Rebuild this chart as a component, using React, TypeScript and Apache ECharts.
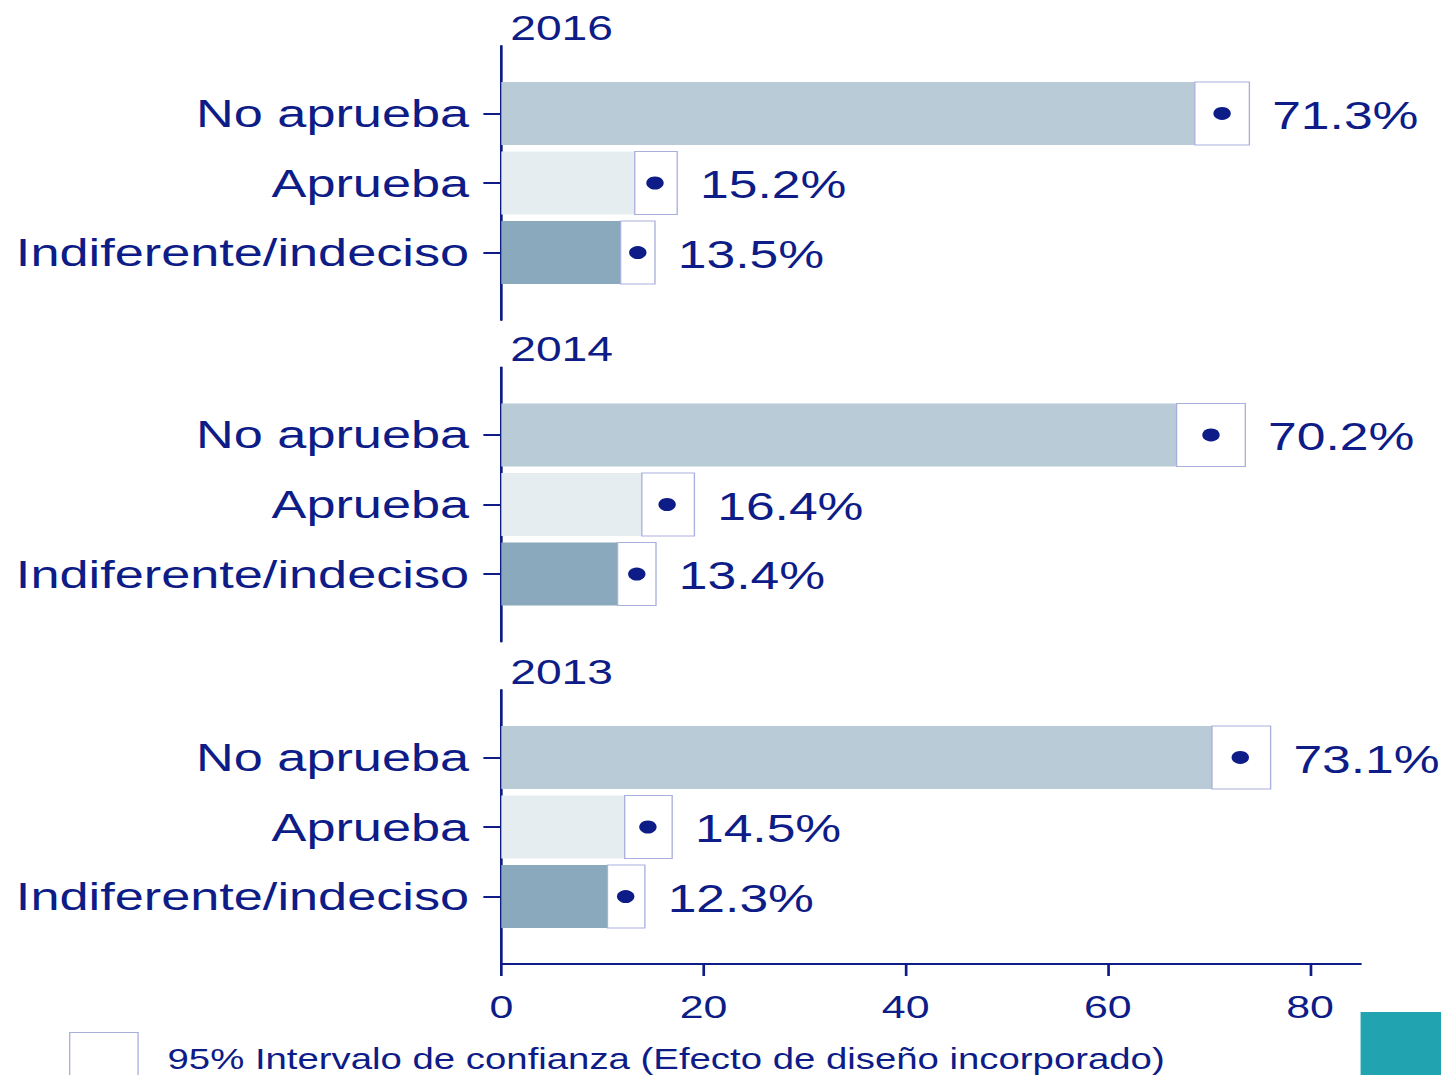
import React, { useEffect, useRef } from "react";
import * as echarts from "echarts";

const years = ["2016", "2014", "2013"];
const categories = ["No aprueba", "Aprueba", "Indiferente/indeciso"];
const est2016 = [71.3, 15.2, 13.5];
const lo2016 = [68.6, 13.2, 11.8];
const hi2016 = [74.0, 17.4, 15.2];
const est2014 = [70.2, 16.4, 13.4];
const lo2014 = [66.8, 13.9, 11.5];
const hi2014 = [73.6, 19.1, 15.3];
const est2013 = [73.1, 14.5, 12.3];
const lo2013 = [70.3, 12.2, 10.5];
const hi2013 = [76.1, 16.9, 14.2];
const xTicks = [0, 20, 40, 60, 80];
const legendName = "95% Intervalo de confianza (Efecto de diseño incorporado)";

const NAVY = "#0d1c86";
const BOX = "#aab0dd";
const barColors = ["#b9cbd7", "#e6edf1", "#8aa9bd"];
const FONT = '"Liberation Sans", Arial, sans-serif';

const W = 1075;
const H = 1075;
const SX = 1441 / W;

const panels = [
  { est: est2016, lo: lo2016, hi: hi2016 },
  { est: est2014, lo: lo2014, hi: hi2014 },
  { est: est2013, lo: lo2013, hi: hi2013 },
];
const tops = [46, 367.5, 690];
const gridH = 274;

export default function App() {
  const ref = useRef<HTMLDivElement>(null);
  useEffect(() => {
    document.body.style.margin = "0";
    document.body.style.overflow = "hidden";
    const chart = echarts.init(ref.current!, null, { renderer: "svg" });
    const grids: any[] = [];
    const xAxes: any[] = [];
    const yAxes: any[] = [];
    const series: any[] = [];
    panels.forEach((p, k) => {
      grids.push({ left: 374, right: 60, top: tops[k], height: gridH });
      const last = k === panels.length - 1;
      xAxes.push({
        type: "value",
        gridIndex: k,
        min: 0,
        max: 85,
        show: last,
        position: "bottom",
        splitLine: { show: false },
        axisLine: { show: true, onZero: false, lineStyle: { color: NAVY, width: 2 } },
        axisTick: { show: true, length: 12, customValues: xTicks, lineStyle: { color: NAVY, width: 2 } },
        axisLabel: { customValues: xTicks, fontSize: 32, fontFamily: FONT, color: NAVY, margin: 27 },
      });
      yAxes.push({
        type: "value",
        gridIndex: k,
        inverse: true,
        min: -0.97,
        max: 2.97,
        splitLine: { show: false },
        axisLine: { show: true, onZero: false, lineStyle: { color: NAVY, width: 2 } },
        axisTick: { show: true, length: 13.4, customValues: [0, 1, 2], lineStyle: { color: NAVY, width: 2 } },
        axisLabel: {
          customValues: [0, 1, 2],
          formatter: (v: number) => categories[Math.round(v)] ?? "",
          fontSize: 39,
          fontFamily: FONT,
          color: NAVY,
          margin: 24,
        },
      });
      const data = categories.map((_, i) => [i, p.lo[i], p.hi[i], p.est[i]]);
      series.push({
        type: "custom",
        name: legendName,
        xAxisIndex: k,
        yAxisIndex: k,
        encode: { x: [1, 2, 3], y: 0 },
        data,
        renderItem: (params: any, api: any) => {
          const i = api.value(0);
          const lo = api.value(1);
          const hi = api.value(2);
          const est = api.value(3);
          const p0 = api.coord([0, i]);
          const pLo = api.coord([lo, i]);
          const pHi = api.coord([hi, i]);
          const pE = api.coord([est, i]);
          const h = api.size([0, 0.905])[1];
          const y0 = p0[1] - h / 2;
          return {
            type: "group",
            children: [
              {
                type: "rect",
                shape: { x: p0[0], y: y0, width: pLo[0] - p0[0], height: h },
                style: { fill: barColors[i] },
              },
              {
                type: "rect",
                shape: { x: pLo[0], y: y0, width: pHi[0] - pLo[0], height: h },
                style: { fill: "#ffffff", stroke: BOX, lineWidth: 1 },
              },
              {
                type: "circle",
                shape: { cx: pE[0], cy: pE[1], r: 6.5 },
                style: { fill: NAVY },
              },
              {
                type: "text",
                x: pHi[0] + 17,
                y: pE[1] + 2,
                style: {
                  text: est.toFixed(1) + "%",
                  fill: NAVY,
                  fontSize: 38.5,
                  fontFamily: FONT,
                  align: "left",
                  verticalAlign: "middle",
                },
              },
            ],
          };
        },
      });
    });

    chart.setOption({
      animation: false,
      backgroundColor: "#ffffff",
      grid: grids,
      xAxis: xAxes,
      yAxis: yAxes,
      series,
      legend: {
        left: 51.5,
        top: 1032,
        padding: 0,
        itemWidth: 51,
        itemHeight: 52,
        selectedMode: false,
        data: [
          {
            name: legendName,
            icon: "rect",
            itemStyle: { color: "#ffffff", borderColor: BOX, borderWidth: 1 },
          },
        ],
        textStyle: { fontSize: 28.6, fontFamily: FONT, color: NAVY, padding: [0, 0, 0, 17] },
      },
      graphic: [
        ...years.map((y, k) => ({
          type: "text",
          x: 380.6,
          y: tops[k] - 18,
          style: {
            text: y,
            fill: NAVY,
            fontSize: 34.5,
            fontFamily: FONT,
            verticalAlign: "middle",
          },
        })),
        {
          type: "rect",
          shape: { x: 1015, y: 1012, width: 61, height: 63 },
          style: { fill: "#22a4b0" },
        },
      ],
    });
    return () => chart.dispose();
  }, []);
  return (
    <div
      ref={ref}
      style={{
        position: "absolute",
        left: 0,
        top: 0,
        width: W,
        height: H,
        transform: `scaleX(${SX})`,
        transformOrigin: "0 0",
      }}
    />
  );
}
